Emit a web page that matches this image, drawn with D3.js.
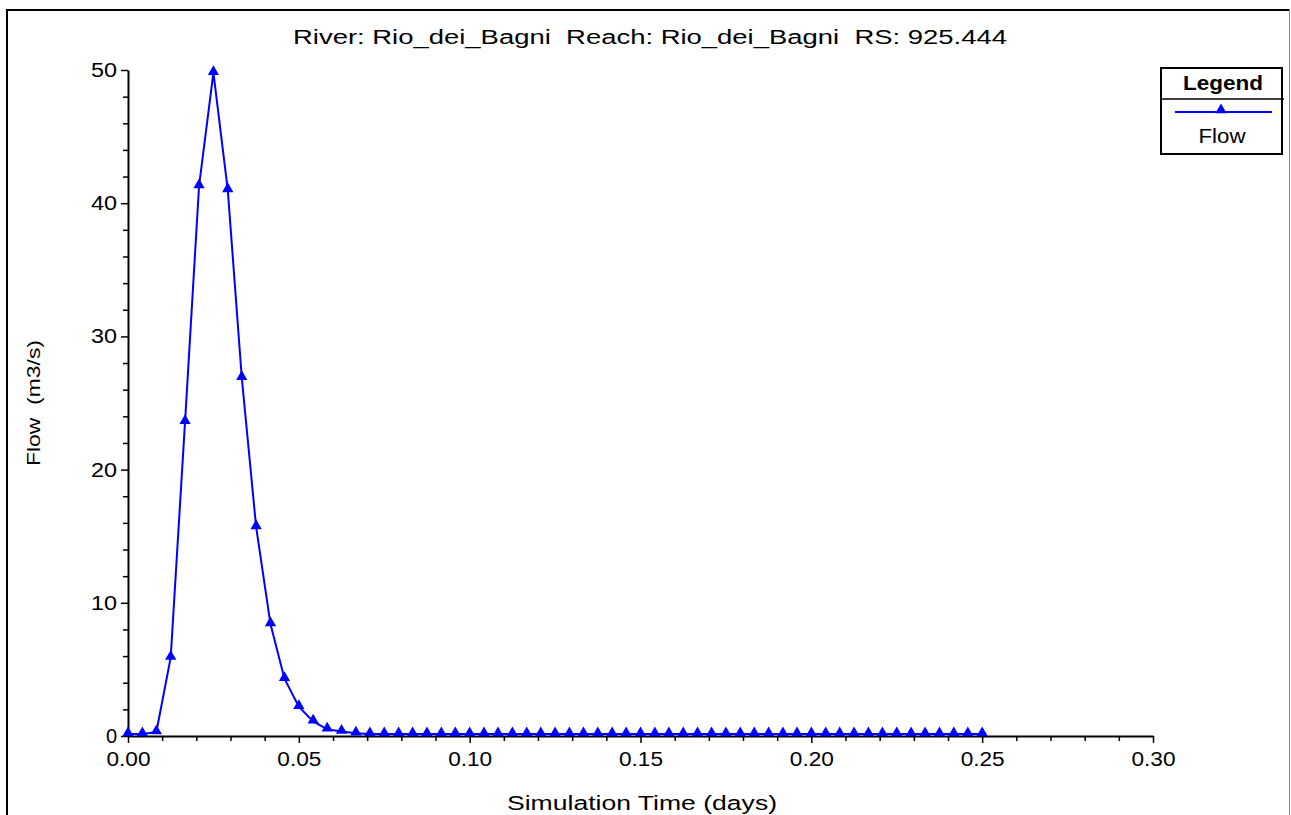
<!DOCTYPE html>
<html><head><meta charset="utf-8">
<script src="https://cdn.jsdelivr.net/npm/d3@7"></script>
<style>
body{margin:0;background:#fff;}
svg text{font-family:"Liberation Sans",Arial,sans-serif;fill:#000;}
</style></head>
<body><svg id="c" width="1291" height="815"></svg>
<script>
const titleText = "River: Rio_dei_Bagni  Reach: Rio_dei_Bagni  RS: 925.444";
const xLabel = "Simulation Time (days)";
const yLabel = "Flow  (m3/s)";
const seriesName = "Flow";
const legendTitle = "Legend";
const xTicks = [0.00, 0.05, 0.10, 0.15, 0.20, 0.25, 0.30];
const xMinorTicks = [0.01,0.02,0.03,0.04,0.06,0.07,0.08,0.09,0.11,0.12,0.13,0.14,0.16,0.17,0.18,0.19,0.21,0.22,0.23,0.24,0.26,0.27,0.28,0.29];
const yTicks = [0, 10, 20, 30, 40, 50];
const yMinorTicks = [2,4,6,8,12,14,16,18,22,24,26,28,32,34,36,38,42,44,46,48];
const times = [0.0000,0.0042,0.0083,0.0125,0.0167,0.0208,0.0250,0.0292,0.0333,0.0375,
  0.0417,0.0458,0.0500,0.0542,0.0583,0.0625,0.0667,0.0708,0.0750,0.0792,
  0.0833,0.0875,0.0917,0.0958,0.1000,0.1042,0.1083,0.1125,0.1167,0.1208,
  0.1250,0.1292,0.1333,0.1375,0.1417,0.1458,0.1500,0.1542,0.1583,0.1625,
  0.1667,0.1708,0.1750,0.1792,0.1833,0.1875,0.1917,0.1958,0.2000,0.2042,
  0.2083,0.2125,0.2167,0.2208,0.2250,0.2292,0.2333,0.2375,0.2417,0.2458,0.2500];
const flows = [0.15,0.15,0.3,5.9,23.6,41.3,49.8,41.0,26.9,15.7,
  8.4,4.3,2.2,1.1,0.5,0.33,0.2,0.15,0.15,0.15,
  0.15,0.15,0.15,0.15,0.15,0.15,0.15,0.15,0.15,0.15,
  0.15,0.15,0.15,0.15,0.15,0.15,0.15,0.15,0.15,0.15,
  0.15,0.15,0.15,0.15,0.15,0.15,0.15,0.15,0.15,0.15,
  0.15,0.15,0.15,0.15,0.15,0.15,0.15,0.15,0.15,0.15,0.15];

const svg = d3.select("#c");
const blue = "#0000ff";

// outer frame
svg.append("line").attr("x1",7).attr("x2",1290).attr("y1",10).attr("y2",10).attr("stroke","#000").attr("stroke-width",2);
svg.append("line").attr("x1",7).attr("x2",7).attr("y1",9).attr("y2",815).attr("stroke","#000").attr("stroke-width",2);
svg.append("line").attr("x1",1289.5).attr("x2",1289.5).attr("y1",9).attr("y2",815).attr("stroke","#888").attr("stroke-width",1);

const x = d3.scaleLinear().domain([0,0.30]).range([128,1153]);
const y = d3.scaleLinear().domain([0,50]).range([736,70]);

// title
svg.append("text").attr("x",650).attr("y",44).attr("text-anchor","middle")
  .attr("font-size",20).style("white-space","pre")
  .attr("textLength",714).attr("lengthAdjust","spacingAndGlyphs").text(titleText);

// x axis
const gx = svg.append("g").attr("transform","translate(0,736)");
gx.call(d3.axisBottom(x).tickValues(xMinorTicks).tickSize(5).tickFormat(""));
gx.call(g=>g.select(".domain").remove());
const gx2 = svg.append("g").attr("transform","translate(0,736)");
gx2.call(d3.axisBottom(x).tickValues(xTicks).tickSize(7).tickSizeOuter(0).tickPadding(9).tickFormat(d3.format(".2f")));
[gx,gx2].forEach(g=>{
  g.selectAll(".tick line").attr("stroke","#000").attr("stroke-width",1.5);
  g.selectAll("text").attr("font-size",20).attr("font-family","Liberation Sans, Arial, sans-serif");
});
gx2.selectAll(".tick text").attr("textLength",44).attr("lengthAdjust","spacingAndGlyphs");
gx2.select(".domain").attr("stroke","#000").attr("stroke-width",2);

// y axis
const gy = svg.append("g").attr("transform","translate(128,0)");
gy.call(d3.axisLeft(y).tickValues(yMinorTicks).tickSize(5).tickFormat(""));
gy.call(g=>g.select(".domain").remove());
const gy2 = svg.append("g").attr("transform","translate(128,0)");
gy2.call(d3.axisLeft(y).tickValues(yTicks).tickSize(7).tickSizeOuter(0).tickPadding(4).tickFormat(d3.format("d")));
[gy,gy2].forEach(g=>{
  g.selectAll(".tick line").attr("stroke","#000").attr("stroke-width",1.5);
  g.selectAll("text").attr("font-size",20).attr("font-family","Liberation Sans, Arial, sans-serif");
});
gy2.selectAll(".tick text").filter(d=>d>0).attr("textLength",26).attr("lengthAdjust","spacingAndGlyphs");
gy2.select(".domain").attr("stroke","#000").attr("stroke-width",2);

// axis labels
svg.append("text").attr("x",642).attr("y",810).attr("text-anchor","middle")
  .attr("font-size",20).attr("textLength",270).attr("lengthAdjust","spacingAndGlyphs").text(xLabel);
svg.append("text").attr("transform","translate(40,403) rotate(-90)").attr("text-anchor","middle")
  .attr("font-size",19).style("white-space","pre").attr("textLength",126).attr("lengthAdjust","spacingAndGlyphs").text(yLabel);

// series
const pts = times.map((t,i)=>[t,flows[i]]);
svg.append("path").datum(pts).attr("fill","none").attr("stroke",blue).attr("stroke-width",2)
  .attr("d",d3.line().x(d=>x(d[0])).y(d=>y(d[1])));
const tri = d3.symbol().type(d3.symbolTriangle).size(55);
svg.append("g").selectAll("path").data(pts).join("path")
  .attr("transform",d=>`translate(${x(d[0])},${y(d[1])-1})`).attr("d",tri).attr("fill",blue);

// legend
const lg = svg.append("g");
lg.append("rect").attr("x",1161).attr("y",68).attr("width",121).attr("height",86)
  .attr("fill","#fff").attr("stroke","#000").attr("stroke-width",2);
lg.append("line").attr("x1",1161).attr("x2",1284).attr("y1",99).attr("y2",99).attr("stroke","#000").attr("stroke-width",1.5);
lg.append("text").attr("x",1223).attr("y",90).attr("text-anchor","middle").attr("font-size",20)
  .attr("font-weight","bold").attr("textLength",80).attr("lengthAdjust","spacingAndGlyphs").text(legendTitle);
lg.append("line").attr("x1",1175).attr("x2",1272).attr("y1",112).attr("y2",112).attr("stroke",blue).attr("stroke-width",2);
lg.append("path").attr("transform","translate(1221,110)").attr("d",tri).attr("fill",blue);
lg.append("text").attr("x",1222).attr("y",143).attr("text-anchor","middle").attr("font-size",20)
  .attr("textLength",47).attr("lengthAdjust","spacingAndGlyphs").text(seriesName);
</script></body></html>
